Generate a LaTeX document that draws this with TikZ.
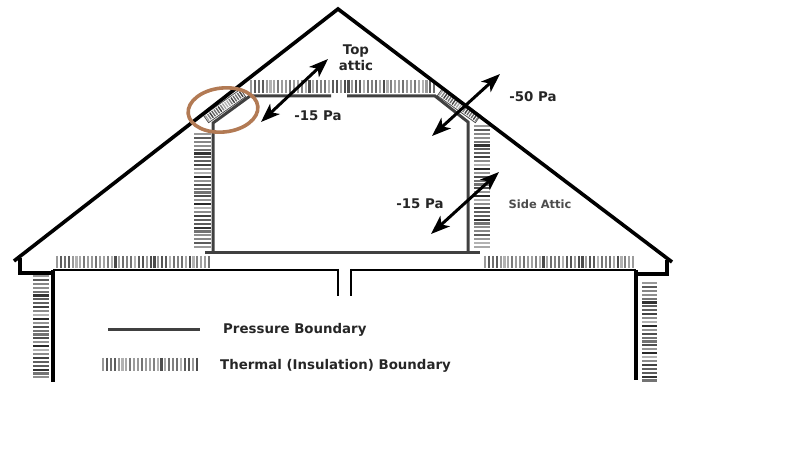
\documentclass[tikz,border=0pt]{standalone}
\usepackage{fontspec}
\setmainfont{DejaVu Sans}
\usetikzlibrary{arrows.meta}
\definecolor{brownring}{RGB}{178,122,84}
\tikzset{
  x=1bp,y=-1bp,
  roofline/.style={line width=3.6bp,line join=miter},
  eaveline/.style={line width=3.2bp,line join=miter},
  wallline/.style={line width=3.4bp},
  pressure/.style={line width=3bp,black!75},
  ceiling/.style={line width=2.2bp},
  stubline/.style={line width=2.8bp},
  airflow/.style={line width=3bp,{Stealth[length=19bp,width=14bp,inset=5bp]}-{Stealth[length=19bp,width=14bp,inset=5bp]}},
  ring/.style={draw=brownring,line width=3.6bp},
  lab/.style={font=\bfseries\fontsize{13.4}{16}\selectfont,inner sep=0pt,text=black!85},
  labsmall/.style={font=\bfseries\fontsize{11.5}{13}\selectfont,inner sep=0pt,text=black!70},
  tick/.style={line width=2.1bp},
}
% vertical ticks filling a horizontal band
\newcommand{\vticks}[4]{%
  \pgfmathsetmacro{\nxt}{#1+3.9}
  \foreach \tx [count=\ti] in {#1,\nxt,...,#2}{%
    \pgfmathtruncatemacro{\shade}{30+mod(\ti*\ti*7+\ti*3,45)}
    \draw[tick,black!\shade] (\tx,#3) -- (\tx,#4);
  }}
% horizontal ticks filling a vertical band
\newcommand{\hticks}[4]{%
  \pgfmathsetmacro{\nxt}{#3+3.9}
  \foreach \ty [count=\ti] in {#3,\nxt,...,#4}{%
    \pgfmathtruncatemacro{\shade}{30+mod(\ti*\ti*7+\ti*3,55)}
    \draw[tick,black!\shade] (#1,\ty) -- (#2,\ty);
  }}
% slanted insulation band from (#1,#2) to (#3,#4)
\newcommand{\slantband}[4]{%
  \begin{scope}[shift={(#1,#2)}]
    \pgfmathsetmacro{\ang}{atan2(-(#4-#2),#3-#1)}
    \pgfmathsetmacro{\len}{veclen(#3-#1,#4-#2)}
    \begin{scope}[rotate=\ang]
      \draw[line width=.8bp,black!70,fill=white] (0,-4.5) rectangle (\len,4.5);
      \pgfmathsetmacro{\nxt}{1.5+2.6}
      \foreach \st [count=\si] in {1.5,\nxt,...,\len}{%
        \pgfmathtruncatemacro{\shade}{30+mod(\si*\si*5,50)}
        \draw[line width=1.4bp,black!\shade] (\st,-3.2) -- (\st,3.2);
      }
    \end{scope}
  \end{scope}}
\begin{document}
\begin{tikzpicture}
\useasboundingbox (0,0) rectangle (799,449);
% key points
\coordinate (apex) at (338,9);
\coordinate (ltip) at (14,261);
\coordinate (rtip) at (672,262);
% insulation
\vticks{251}{436}{80}{93}
\hticks{194}{211}{134}{250}
\hticks{474}{490}{126}{250}
\vticks{57}{211}{256}{268}
\vticks{485}{635}{256}{268}
\hticks{33}{49}{276}{381}
\hticks{642}{657}{283}{382}
\slantband{206}{119}{243}{93}
\slantband{440}{92}{478}{119}
% roof
\draw[roofline] (ltip) -- (apex) -- (rtip);
\draw[eaveline] (20,258) -- (20,273) -- (53,273);
\draw[eaveline] (667,260) -- (667,274) -- (636,274);
% house walls and attic floor
\draw[wallline] (53,270) -- (53,382);
\draw[wallline] (636,270) -- (636,380);
\draw[ceiling] (53,270) -- (338,270);
\draw[ceiling] (351,270) -- (636,270);
\draw[stubline] (338,269) -- (338,296);
\draw[stubline] (351,269) -- (351,296);
% pressure boundary
\draw[pressure,line join=miter] (205,252.5) -- (480,252.5);
\draw[pressure,line join=miter] (213,252.5) -- (213,123) -- (250,96) -- (331,96);
\draw[pressure,line join=miter] (347,96) -- (435,96) -- (468,122) -- (468,252.5);
% ring
\draw[ring,rotate around={6:(223,110)}] (223,110) ellipse (35 and 22);
% arrows
\coordinate (a1s) at (261,122); \coordinate (a1e) at (328,59);
\coordinate (a2s) at (432,136); \coordinate (a2e) at (500,74);
\coordinate (a3s) at (431,234); \coordinate (a3e) at (499,172);
\draw[airflow] (a1s) -- (a1e);
\draw[airflow] (a2s) -- (a2e);
\draw[airflow] (a3s) -- (a3e);
% labels
\node[lab,align=center] (top) at (356,58) {Top\\attic};
\node[lab] (p1) at (318,116) {-15 Pa};
\node[lab] (p2) at (533,97) {-50 Pa};
\node[lab] (p3) at (420,204) {-15 Pa};
\node[labsmall] (side) at (540,204) {Side Attic};
% legend
\coordinate (l1) at (108,330); \coordinate (l2) at (200,330);
\draw[pressure] (l1) -- (l2);
\vticks{103}{200}{358}{371}
\node[lab,anchor=west] (lp) at (223,330) {Pressure Boundary};
\node[lab,anchor=west] (lt) at (220,366) {Thermal (Insulation) Boundary};
\end{tikzpicture}
\end{document}
